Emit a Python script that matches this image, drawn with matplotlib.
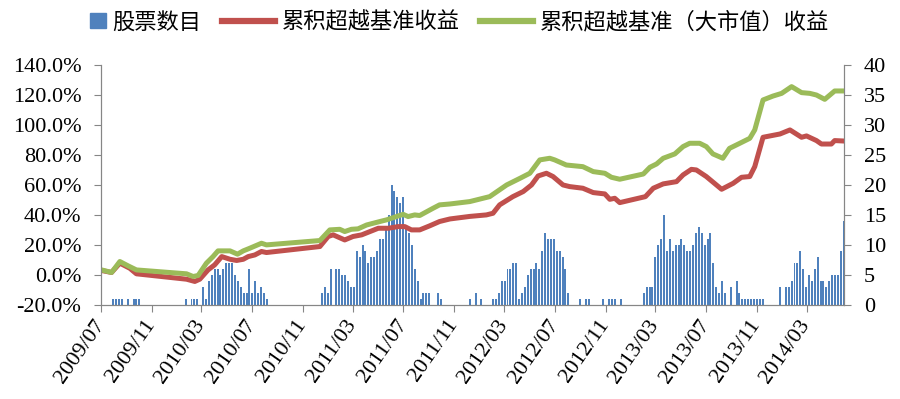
import matplotlib
matplotlib.use('Agg')
import matplotlib.pyplot as plt
import matplotlib.dates as mdates
from matplotlib.patches import Rectangle
from matplotlib.lines import Line2D
from matplotlib.legend_handler import HandlerPatch
from matplotlib.ticker import FuncFormatter
import pandas as pd

plt.rcParams['font.family'] = ['Liberation Serif', 'Noto Sans CJK SC']

# 每周股票数目: (起始周, 每周数量)
count_runs = [
    ("2009-07-31", [1, 1, 1, 1, 0, 1, 0, 1, 1, 1]),
    ("2010-01-22", [1, 0, 1, 1, 1, 0, 3, 1, 4, 5, 6, 6, 5, 6, 7, 7, 7, 5, 4, 3, 2, 2, 6, 2, 4, 2, 3, 2, 1]),
    ("2010-12-17", [2, 3, 2, 6, 0, 6, 6, 5, 5, 4, 3, 3, 9, 8, 10, 9, 7, 8, 8, 9, 11, 11, 13, 15, 20,
                    19, 18, 17, 18, 13, 12, 10, 6, 4, 1, 2, 2, 2, 0, 0, 2, 1]),
    ("2011-12-09", [1, 0, 2, 0, 1, 0, 0, 0, 1, 1, 2, 4, 4, 6, 6, 7, 7, 1, 2, 3, 5, 6, 6, 7, 6, 9, 12,
                    11, 11, 11, 9, 9, 8, 6, 2]),
    ("2012-08-31", [1, 0, 1, 1]),
    ("2012-10-26", [1, 0, 1, 1, 1, 0, 1]),
    ("2013-02-01", [2, 3, 3, 3, 8, 10, 11, 15, 9, 11, 9, 10, 10, 11, 10, 9, 9, 10, 12, 13, 12, 10, 11,
                    12, 7, 3, 2, 4, 2, 0, 3, 0, 4, 2, 1, 1, 1, 1, 1, 1, 1, 1]),
    ("2013-12-27", [3, 0, 3, 3, 4, 7, 7, 9, 6, 3, 5, 4, 6, 8, 4, 4, 3, 4, 5, 5, 5, 9, 14]),
]

# 累积超越基准收益 (%)
red_dates = ["2009-07-03", "2009-07-27", "2009-08-16", "2009-09-09", "2009-09-25", "2010-01-24",
             "2010-02-13", "2010-02-25", "2010-03-17", "2010-04-02", "2010-04-19", "2010-05-09",
             "2010-05-25", "2010-06-10", "2010-06-22", "2010-07-08", "2010-07-24", "2010-08-05",
             "2010-12-12", "2011-01-01", "2011-01-13", "2011-02-10", "2011-03-02", "2011-03-23",
             "2011-04-12", "2011-05-02", "2011-05-26", "2011-06-19", "2011-07-05", "2011-07-21",
             "2011-08-10", "2011-09-03", "2011-09-27", "2011-10-22", "2011-12-09", "2012-01-18",
             "2012-02-03", "2012-02-19", "2012-03-22", "2012-04-16", "2012-05-06", "2012-05-22",
             "2012-06-11", "2012-06-27", "2012-07-21", "2012-08-06", "2012-09-07", "2012-10-02",
             "2012-10-30", "2012-11-11", "2012-11-23", "2012-12-05", "2013-02-05", "2013-02-24",
             "2013-03-20", "2013-04-21", "2013-05-07", "2013-05-27", "2013-06-08", "2013-07-02",
             "2013-08-08", "2013-09-05", "2013-09-25", "2013-10-15", "2013-10-27", "2013-11-16",
             "2013-12-27", "2014-01-20", "2014-02-17", "2014-03-01", "2014-03-25", "2014-04-06",
             "2014-04-30", "2014-05-08", "2014-05-30"]
red_vals = [2.9, 1.6, 7.8, 4.4, 0.7, -2.9, -4.4, -2.9, 3.3, 6.7, 12.2, 10.4, 9.6, 10.4, 12.2, 13.3,
            15.6, 14.9, 18.9, 25.6, 26.7, 23.3, 25.6, 26.7, 28.9, 31.1, 31.1, 32.2, 32.2, 30.0, 30.0,
            32.7, 35.6, 37.3, 39.0, 40.0, 41.1, 46.7, 52.2, 55.6, 60.0, 66.0, 67.8, 65.6, 60.0, 58.9,
            57.8, 54.9, 54.0, 50.4, 51.1, 48.2, 52.2, 57.8, 60.7, 62.2, 66.7, 70.4, 70.0, 65.6, 57.1,
            61.1, 65.1, 65.6, 72.2, 91.8, 94.0, 96.7, 91.8, 92.7, 89.6, 87.3, 87.3, 89.6, 89.3]

# 累积超越基准（大市值）收益 (%)
green_dates = ["2009-07-03", "2009-07-27", "2009-08-16", "2009-09-05", "2009-09-25", "2010-01-24",
               "2010-02-09", "2010-02-21", "2010-03-13", "2010-03-29", "2010-04-10", "2010-05-09",
               "2010-05-27", "2010-06-10", "2010-06-26", "2010-07-24", "2010-08-05", "2010-12-12",
               "2011-01-05", "2011-01-29", "2011-02-10", "2011-02-26", "2011-03-14", "2011-04-04",
               "2011-05-06", "2011-05-22", "2011-07-01", "2011-07-13", "2011-07-29", "2011-08-10",
               "2011-09-11", "2011-09-27", "2011-10-22", "2011-12-09", "2011-12-25", "2012-01-26",
               "2012-03-07", "2012-04-08", "2012-05-02", "2012-05-26", "2012-06-19", "2012-07-01",
               "2012-07-29", "2012-09-07", "2012-10-02", "2012-10-30", "2012-11-15", "2012-12-05",
               "2013-01-31", "2013-02-16", "2013-03-04", "2013-03-20", "2013-04-17", "2013-05-07",
               "2013-05-23", "2013-06-16", "2013-07-02", "2013-07-18", "2013-08-11", "2013-08-27",
               "2013-09-21", "2013-10-15", "2013-10-27", "2013-11-16", "2013-12-10", "2013-12-31",
               "2014-01-24", "2014-02-17", "2014-03-09", "2014-03-25", "2014-04-14", "2014-05-08",
               "2014-05-30"]
green_vals = [3.3, 1.6, 8.9, 6.0, 3.3, 0.7, -1.1, -0.4, 7.8, 12.2, 16.0, 16.0, 13.8, 16.0, 17.8, 21.1,
              20.0, 22.9, 30.0, 30.4, 28.9, 30.4, 30.7, 33.3, 35.6, 36.7, 40.4, 38.9, 40.0, 39.6, 44.4,
              46.7, 47.3, 48.9, 50.0, 52.2, 60.0, 64.4, 67.8, 76.7, 77.8, 76.7, 73.3, 72.2, 68.9, 67.8,
              65.1, 63.8, 67.3, 71.8, 74.0, 77.8, 80.7, 85.6, 87.8, 87.8, 85.6, 80.7, 77.8, 84.4, 87.8,
              91.1, 96.7, 116.7, 119.3, 121.1, 125.6, 121.6, 121.1, 120.0, 117.1, 122.7, 122.7]

labels = ["股票数目", "累积超越基准收益", "累积超越基准（大市值）收益"]
blue, red, green, grey = "#4F81BD", "#C0504D", "#9BBB59", "#868686"

# 展开每周数据
bar_dates, bar_counts = [], []
for start, counts in count_runs:
    bar_dates += list(pd.date_range(start, periods=len(counts), freq="7D"))
    bar_counts += counts

fig, ax = plt.subplots(figsize=(9, 3.99), dpi=100)
fig.subplots_adjust(left=0.112, right=0.938, bottom=0.236, top=0.837)
ax2 = ax.twinx()
ax.set_zorder(ax2.get_zorder() + 1)
ax.patch.set_visible(False)

ax2.bar(bar_dates, bar_counts, width=4.8, color=blue, linewidth=0)
ax.plot(pd.to_datetime(red_dates), red_vals, color=red, lw=3.6, solid_joinstyle="round")
ax.plot(pd.to_datetime(green_dates), green_vals, color=green, lw=3.6, solid_joinstyle="round")

ax.set_ylim(-20, 140)
ax.set_yticks(range(-20, 141, 20))
ax.yaxis.set_major_formatter(FuncFormatter(lambda v, p: f"{v:.1f}%"))
ax2.set_ylim(0, 40)
ax2.set_yticks(range(0, 41, 5))

ax.set_xlim(pd.Timestamp("2009-07-01"), pd.Timestamp("2014-05-31"))
ax.xaxis.set_major_locator(mdates.MonthLocator(bymonth=[3, 7, 11]))
ax.xaxis.set_major_formatter(mdates.DateFormatter("%Y/%m"))

for a in (ax, ax2):
    a.spines["top"].set_visible(False)
    for s in ("left", "right", "bottom"):
        a.spines[s].set_color(grey)
ax.tick_params(axis="y", length=5, color=grey, pad=9, labelsize=16)
ax2.tick_params(axis="y", length=5, color=grey, pad=9, labelsize=16)
ax.tick_params(axis="x", length=5, color=grey, pad=7, labelsize=16)
for lab in ax.get_xticklabels():
    lab.set_rotation(55)
    lab.set_ha("right")
    lab.set_va("center")
    lab.set_rotation_mode("anchor")


def small_square(legend, orig_handle, xdescent, ydescent, width, height, fontsize):
    return Rectangle((width - height - xdescent, -ydescent), height, height)


bar_proxy = Rectangle((0, 0), 1, 1, color=blue)
handles = [bar_proxy,
           Line2D([], [], color=red, lw=4.5),
           Line2D([], [], color=green, lw=4.5)]
fig.legend(handles, labels, loc="center left", bbox_to_anchor=(0.046, 0.945), ncol=3,
           frameon=False, borderpad=0, handlelength=2.4, handletextpad=0.3, columnspacing=0.9,
           prop={"family": "Noto Sans CJK SC", "size": 16},
           handler_map={bar_proxy: HandlerPatch(patch_func=small_square)})

fig.savefig("out.png", dpi=100)
